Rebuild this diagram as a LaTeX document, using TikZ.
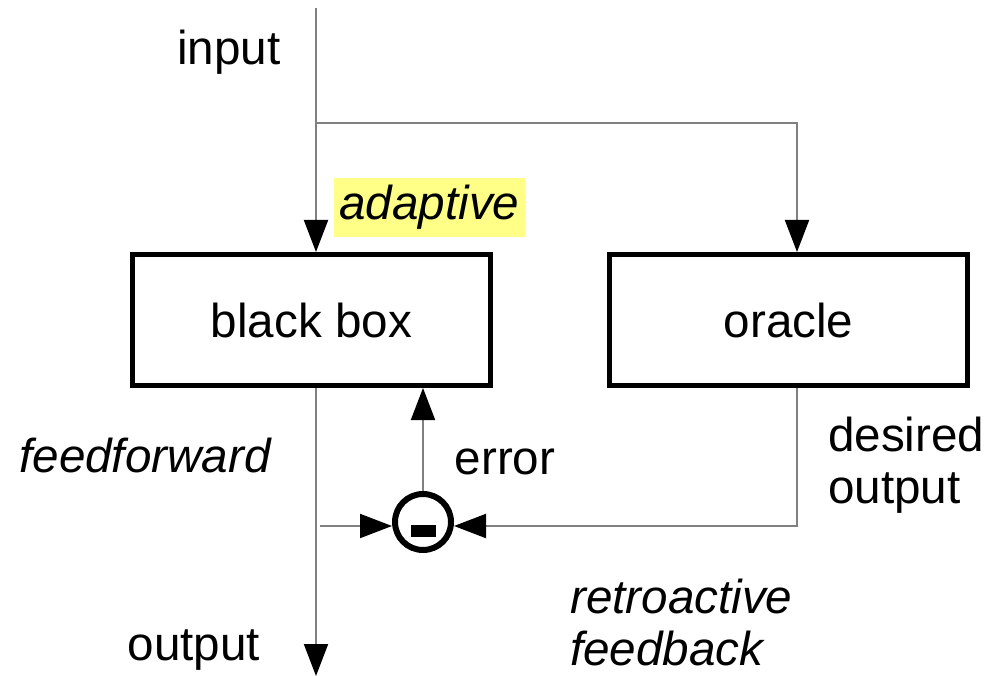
\documentclass[tikz,border=0pt]{standalone}
\usepackage{fontspec}
\setmainfont{Liberation Sans}
\usetikzlibrary{arrows.meta}
\begin{document}
\begin{tikzpicture}[x=1pt,y=-1pt,
  font=\fontsize{47.6}{52}\selectfont,
  wire/.style={draw=gray, line width=2pt},
  tip/.style={-{Triangle[length=32pt,width=24pt,color=black]}},
  blockbox/.style={draw=black, line width=5pt, minimum width=358pt, minimum height=131pt, inner sep=0pt},
  lbl/.style={inner sep=0pt},
  sumnode/.style={circle, draw=black, line width=6pt, minimum size=56pt, inner sep=0pt}]
\useasboundingbox (0,0) rectangle (987,676);
\node[blockbox] (bb) at (311.5,320) {\raisebox{-3pt}{black box}};
\node[blockbox] (or) at (788.5,320) {\raisebox{-3pt}{oracle}};
\node[sumnode] (sum) at (423,522) {};
\fill[black] ([shift={(-12,3)}]sum.center) rectangle ([shift={(13,15)}]sum.center);
\coordinate (top) at (316,8);
\coordinate (split) at (316,123);
\coordinate (corner) at (797,123);
\coordinate (bottom) at (316,676);
\coordinate (ff) at (320,526);
\coordinate (fbcorner) at (797,526);
\draw[wire,tip] (top) -- (top |- bb.north);
\draw[wire,tip] (split) -- (corner) -- (corner |- or.north);
\draw[wire,tip] (top |- bb.south) -- (bottom);
\draw[wire,tip] (ff) -- (ff -| sum.west);
\draw[wire,tip] (corner |- or.south) -- (fbcorner) -- (fbcorner -| sum.east);
\draw[wire,tip] (sum.north) -- (sum.north |- bb.south);
\node[lbl] (in) at (229,52) {input};
\node[fill={rgb,255:red,255;green,255;blue,136}, inner sep=0pt, minimum width=191pt, minimum height=59pt] (ad) at (429.5,207.5) {\raisebox{-3pt}{\itshape adaptive}};
\node[lbl] (ffl) at (145,455) {\itshape feedforward};
\node[lbl] (err) at (505,462) {error};
\node[lbl, anchor=west, align=left] (des) at (828,465) {desired\\output};
\node[lbl, anchor=west, align=left, font=\fontsize{47.6}{52}\selectfont\itshape] (retro) at (570,622) {retroactive\\feedback};
\node[lbl] (out) at (194,650) {output};
\end{tikzpicture}
\end{document}
